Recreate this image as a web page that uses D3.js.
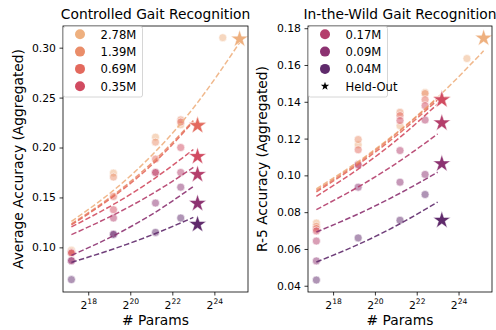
<!DOCTYPE html>
<html lang="en">
<head>
<meta charset="utf-8"/>
<script src="https://d3js.org/d3.v7.min.js"></script>
<style>
  body { margin: 0; background: #fff; }
  svg text { font-family: "DejaVu Sans", sans-serif; fill: #000; }
</style>
</head>
<body>
<div id="chart"></div>
<script>
// data sizes (hue) and model sizes (log2 of # params)
var sizeLabels = ["2.78M", "1.39M", "0.69M", "0.35M", "0.17M", "0.09M", "0.04M"];
var sizeColors = ["#eeb07f", "#ea8d69", "#e3695d", "#d14b61", "#b43e6b", "#8c3271", "#5f2a6b"];

var paramsLog2 = [17.2, 19.2, 21.2, 22.4];
var extraParamsLog2 = [24.4];          // only the largest data size
var heldOutLog2 = [25.2, 23.2, 23.2, 23.2, 23.2, 23.2, 23.2];
var fitLog2 = [17.2, 19.2, 21.2, 23.0];
var fitLog2Largest = [17.2, 19.2, 21.2, 23.2, 25.2];

// Controlled gait recognition, average accuracy
var ctrlPoints = [
  [0.0970, 0.1744, 0.2104, 0.2227],
  [0.0955, 0.1704, 0.2054, 0.2277],
  [0.0940, 0.1510, 0.1884, 0.2255],
  [0.0945, 0.1377, 0.1750, 0.2000],
  [0.0867, 0.1294, 0.1750, 0.1750],
  [0.0867, 0.1134, 0.1444, 0.1603],
  [0.0677, 0.1130, 0.1150, 0.1294]
];
var ctrlExtra = [0.3100];
var ctrlHeldOut = [0.3087, 0.2225, 0.2220, 0.1910, 0.1730, 0.1440, 0.1230];
var ctrlFit = [
  [0.1260, 0.1570, 0.1960, 0.2450, 0.3050],
  [0.1235, 0.1524, 0.1880, 0.2270],
  [0.1225, 0.1510, 0.1860, 0.2260],
  [0.1205, 0.1430, 0.1697, 0.1980],
  [0.1127, 0.1324, 0.1556, 0.1800],
  [0.0920, 0.1116, 0.1353, 0.1610],
  [0.0850, 0.0984, 0.1139, 0.1300]
];
var ctrlTicks = [0.10, 0.15, 0.20, 0.25, 0.30];

// In-the-wild gait recognition, R-5 accuracy
var wildPoints = [
  [0.0741, 0.1166, 0.1270, 0.1451],
  [0.0723, 0.1195, 0.1343, 0.1445],
  [0.0711, 0.1139, 0.1325, 0.1411],
  [0.0698, 0.1060, 0.1298, 0.1379],
  [0.0643, 0.1057, 0.1135, 0.1301],
  [0.0535, 0.0936, 0.0963, 0.1005],
  [0.0431, 0.0660, 0.0756, 0.0896]
];
var wildExtra = [0.1635];
var wildHeldOut = [0.1746, 0.1415, 0.1413, 0.1411, 0.1285, 0.1063, 0.0756];
var wildFit = [
  [0.0927, 0.1075, 0.1247, 0.1446, 0.1677],
  [0.0918, 0.1068, 0.1243, 0.1420],
  [0.0910, 0.1060, 0.1232, 0.1410],
  [0.0886, 0.1034, 0.1207, 0.1388],
  [0.0814, 0.0937, 0.1079, 0.1225],
  [0.0692, 0.0790, 0.0903, 0.1017],
  [0.0529, 0.0624, 0.0737, 0.0855]
];
var wildTicks = [0.04, 0.06, 0.08, 0.10, 0.12, 0.14, 0.16, 0.18];

var xTicks = [18, 20, 22, 24];

var svg = d3.select("#chart")
  .append("svg")
    .attr("width", 496)
    .attr("height", 330);

var plotTop = 26, plotBottom = 292;
var star = d3.symbol().type(d3.symbolStar);

function drawPanel(cfg) {
  var x = d3.scaleLinear().domain([16.8, 25.6]).range([cfg.left, cfg.right]);
  var y = d3.scaleLinear().domain(cfg.yDomain).range([plotBottom, plotTop]);
  var g = svg.append("g");

  // scatter points
  cfg.points.forEach(function (vals, i) {
    g.selectAll(null).data(vals).enter().append("circle")
      .attr("cx", function (d, j) { return x(paramsLog2[j]); })
      .attr("cy", function (d) { return y(d); })
      .attr("r", 4)
      .attr("fill", sizeColors[i])
      .attr("fill-opacity", 0.5)
      .attr("stroke", "#fff")
      .attr("stroke-width", 0.6);
  });
  g.selectAll(null).data(cfg.extra).enter().append("circle")
    .attr("cx", function (d, j) { return x(extraParamsLog2[j]); })
    .attr("cy", function (d) { return y(d); })
    .attr("r", 4)
    .attr("fill", sizeColors[0])
    .attr("fill-opacity", 0.5)
    .attr("stroke", "#fff")
    .attr("stroke-width", 0.6);

  // fitted dashed curves
  cfg.fits.forEach(function (vals, i) {
    var xs = i === 0 ? fitLog2Largest : fitLog2;
    var line = d3.line()
      .x(function (d, j) { return x(xs[j]); })
      .y(function (d) { return y(d); })
      .curve(d3.curveNatural);
    g.append("path")
      .datum(vals)
      .attr("d", line)
      .attr("fill", "none")
      .attr("stroke", sizeColors[i])
      .attr("stroke-opacity", 0.9)
      .attr("stroke-width", 1.5)
      .attr("stroke-dasharray", "5.5,2.4");
  });

  // held-out stars
  g.selectAll(null).data(cfg.heldOut).enter().append("path")
    .attr("d", star.size(95))
    .attr("transform", function (d, i) {
      return "translate(" + x(heldOutLog2[i]) + "," + y(d) + ")";
    })
    .attr("fill", function (d, i) { return sizeColors[i]; })
    .attr("stroke", "#fff")
    .attr("stroke-width", 0.5);

  // axes
  var ya = g.append("g")
    .attr("transform", "translate(" + cfg.left + ",0)")
    .call(d3.axisLeft(y).tickValues(cfg.yTicks).tickFormat(d3.format(".2f"))
      .tickSize(3.5).tickPadding(3.5));
  ya.select(".domain").remove();
  ya.selectAll("text").attr("font-size", "10.8px").attr("font-family", "DejaVu Sans");
  ya.selectAll("line").attr("stroke-width", 0.8);

  var xa = g.append("g")
    .attr("transform", "translate(0," + plotBottom + ")")
    .call(d3.axisBottom(x).tickValues(xTicks).tickSize(3.5).tickPadding(6.3));
  xa.select(".domain").remove();
  xa.selectAll("line").attr("stroke-width", 0.8);
  xa.selectAll(".tick text").each(function (d) {
    var t = d3.select(this);
    t.text(null).attr("font-size", "10.8px").attr("font-family", "DejaVu Sans");
    t.append("tspan").text("2");
    t.append("tspan").attr("dy", "-5.5").attr("font-size", "7.6px").text(d);
  });

  g.append("rect")
    .attr("x", cfg.left).attr("y", plotTop)
    .attr("width", cfg.right - cfg.left).attr("height", plotBottom - plotTop)
    .attr("fill", "none").attr("stroke", "#000").attr("stroke-width", 0.8);

  // titles
  g.append("text")
    .attr("x", (cfg.left + cfg.right) / 2).attr("y", 19)
    .attr("text-anchor", "middle").attr("font-size", "13.8px")
    .text(cfg.title);
  g.append("text")
    .attr("x", (cfg.left + cfg.right) / 2).attr("y", 325)
    .attr("text-anchor", "middle").attr("font-size", "13.8px")
    .text("# Params");
  g.append("text")
    .attr("transform", "translate(" + cfg.ylabelX + "," + (plotTop + plotBottom) / 2 + ") rotate(-90)")
    .attr("text-anchor", "middle").attr("font-size", "13.8px")
    .text(cfg.ylabel);

  // legend
  var lg = g.append("g").attr("transform", "translate(" + cfg.left + "," + plotTop + ")");
  lg.append("rect")
    .attr("x", 0.5).attr("y", 0.5).attr("width", 79).attr("height", 70.5).attr("rx", 2)
    .attr("fill", "#fff").attr("fill-opacity", 0.8)
    .attr("stroke", "#cccccc").attr("stroke-width", 0.8);
  var rows = lg.selectAll(null).data(cfg.legend).enter().append("g")
    .attr("transform", function (d, i) { return "translate(0," + (8.3 + i * 17.3) + ")"; });
  rows.each(function (d) {
    var r = d3.select(this);
    if (d.star) {
      r.append("path").attr("d", star.size(22)).attr("transform", "translate(17,0)").attr("fill", "#000");
    } else {
      r.append("circle").attr("cx", 17).attr("r", 5).attr("fill", d.color);
    }
  });
  rows.append("text")
    .attr("x", 37.5).attr("y", 4.3)
    .attr("font-size", "11.6px")
    .text(function (d) { return d.label; });
}

drawPanel({
  left: 63, right: 248,
  yDomain: [0.0553, 0.3217],
  yTicks: ctrlTicks,
  points: ctrlPoints, extra: ctrlExtra, heldOut: ctrlHeldOut, fits: ctrlFit,
  title: "Controlled Gait Recognition",
  ylabel: "Average Accuracy (Aggregated)",
  ylabelX: 22.6,
  legend: sizeLabels.slice(0, 4).map(function (l, i) { return { label: l, color: sizeColors[i] }; })
});

drawPanel({
  left: 308, right: 492,
  yDomain: [0.0366, 0.1812],
  yTicks: wildTicks,
  points: wildPoints, extra: wildExtra, heldOut: wildHeldOut, fits: wildFit,
  title: "In-the-Wild Gait Recognition",
  ylabel: "R-5 Accuracy (Aggregated)",
  ylabelX: 267.3,
  legend: sizeLabels.slice(4).map(function (l, i) { return { label: l, color: sizeColors[i + 4] }; })
    .concat([{ label: "Held-Out", star: true }])
});
</script>
</body>
</html>
